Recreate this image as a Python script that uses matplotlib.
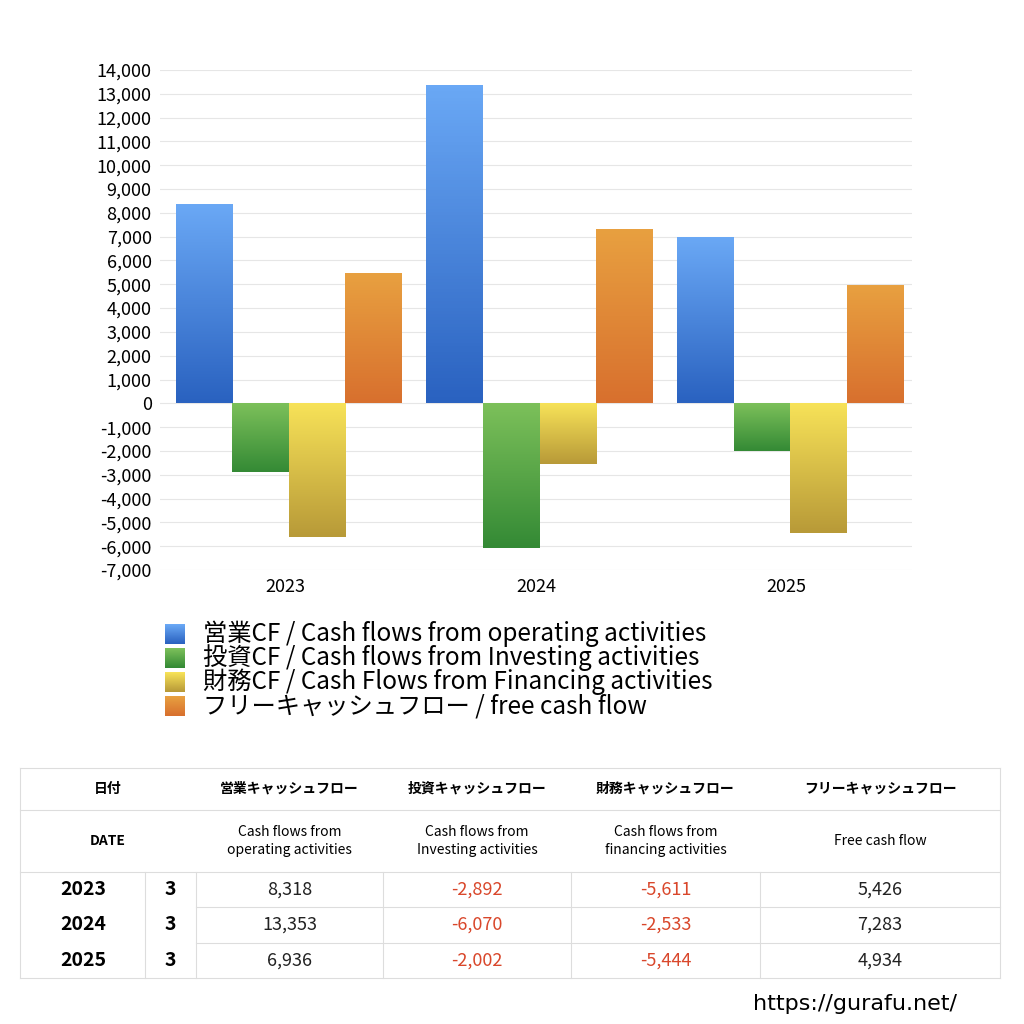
import numpy as np
import matplotlib
matplotlib.use("Agg")
import matplotlib.pyplot as plt
from matplotlib.colors import LinearSegmentedColormap

plt.rcParams['font.family'] = ['Noto Sans CJK JP', 'DejaVu Sans']

years = ['2023', '2024', '2025']
months = ['3', '3', '3']
operating = [8318, 13353, 6936]
investing = [-2892, -6070, -2002]
financing = [-5611, -2533, -5444]
free_cf = [5426, 7283, 4934]

series = [operating, investing, financing, free_cf]
labels = ['営業CF / Cash flows from operating activities',
          '投資CF / Cash flows from Investing activities',
          '財務CF / Cash Flows from Financing activities',
          'フリーキャッシュフロー / free cash flow']
# (top colour, bottom colour) for each series
grads = [('#6aa8f5', '#2a62c0'), ('#7cc05a', '#348a35'),
         ('#f7e258', '#b89a38'), ('#e8a040', '#d8702e')]

fig = plt.figure(figsize=(10.24, 10.24), dpi=100)
ax = fig.add_axes([160 / 1024, 1 - 570 / 1024, 752 / 1024, 500 / 1024])

x = np.arange(len(years))
w = 0.226
offs = (np.arange(4) - 1.5) * w + 0.014
for i, vals in enumerate(series):
    cmap = LinearSegmentedColormap.from_list('g%d' % i, [grads[i][1], grads[i][0]])
    for xi, v in zip(x, vals):
        x0 = xi + offs[i] - w / 2
        grad = np.linspace(0, 1, 100).reshape(-1, 1)
        lo, hi = min(0, v), max(0, v)
        ax.imshow(grad, cmap=cmap, aspect='auto', origin='lower',
                  extent=[x0, x0 + w, lo, hi], zorder=3)
    ax.bar(x + offs[i], vals, w, color=grads[i][0], alpha=0, label=labels[i])

ax.set_xlim(-0.5, 2.5)
ax.set_ylim(-7000, 14000)
ax.set_yticks(np.arange(-7000, 14001, 1000))
ax.set_yticklabels([f'{t:,}' for t in range(-7000, 14001, 1000)], fontsize=13)
ax.set_xticks(x)
ax.set_xticklabels(years, fontsize=13)
ax.tick_params(length=0, pad=6)
ax.grid(axis='y', color='#e6e6e6', lw=0.8, zorder=0)
ax.set_axisbelow(True)
for s in ax.spines.values():
    s.set_visible(False)

# legend
for i, lab in enumerate(labels):
    yy = 1 - (634 + i * 24) / 1024
    cmap = LinearSegmentedColormap.from_list('l%d' % i, [grads[i][1], grads[i][0]])
    lax = fig.add_axes([165 / 1024, yy - 10 / 1024, 20 / 1024, 20 / 1024])
    lax.imshow(np.linspace(0, 1, 20).reshape(-1, 1), cmap=cmap, aspect='auto', origin='lower')
    lax.axis('off')
    fig.text(203 / 1024, yy, lab, fontsize=17.5, va='center')

# table
col_edges = [20, 145, 196, 383, 571, 760, 1000]
row_edges = [768, 810, 872, 907, 943, 978]
grey = '#dddddd'
def fx(px):
    return px / 1024
def fy(py):
    return 1 - py / 1024
for r in row_edges:
    left = 196 if r in (907, 943) else 20
    fig.add_artist(plt.Line2D([fx(left), fx(1000)], [fy(r), fy(r)], color=grey, lw=0.8))
for c in (20, 1000):
    fig.add_artist(plt.Line2D([fx(c), fx(c)], [fy(768), fy(978)], color=grey, lw=0.8))
for c in col_edges[1:-1]:
    fig.add_artist(plt.Line2D([fx(c), fx(c)], [fy(872), fy(978)], color=grey, lw=0.8))

head_jp = ['営業キャッシュフロー', '投資キャッシュフロー', '財務キャッシュフロー', 'フリーキャッシュフロー']
head_en = ['Cash flows from\noperating activities', 'Cash flows from\nInvesting activities',
           'Cash flows from\nfinancing activities', 'Free cash flow']
fig.text(fx(108), fy(789), '日付', ha='center', va='center', fontsize=10, weight='bold')
fig.text(fx(108), fy(841), 'DATE', ha='center', va='center', fontsize=10, weight='bold')
for j in range(4):
    cx = (col_edges[j + 2] + col_edges[j + 3]) / 2
    fig.text(fx(cx), fy(789), head_jp[j], ha='center', va='center', fontsize=10, weight='bold')
    fig.text(fx(cx), fy(841), head_en[j], ha='center', va='center', fontsize=10,
             linespacing=1.4)
for i in range(3):
    cy = (row_edges[i + 2] + row_edges[i + 3]) / 2
    fig.text(fx(83), fy(cy), years[i], ha='center', va='center', fontsize=14, weight='bold')
    fig.text(fx(170), fy(cy), months[i], ha='center', va='center', fontsize=14, weight='bold')
    for j, vals in enumerate(series):
        cx = (col_edges[j + 2] + col_edges[j + 3]) / 2
        v = vals[i]
        fig.text(fx(cx), fy(cy), f'{v:,}', ha='center', va='center', fontsize=13,
                 color='#d9472b' if v < 0 else '#222222')

fig.text(fx(855), fy(1004), 'https://gurafu.net/', ha='center', va='center',
         fontsize=16, family=['DejaVu Sans'])

fig.savefig('out.png', dpi=100)
